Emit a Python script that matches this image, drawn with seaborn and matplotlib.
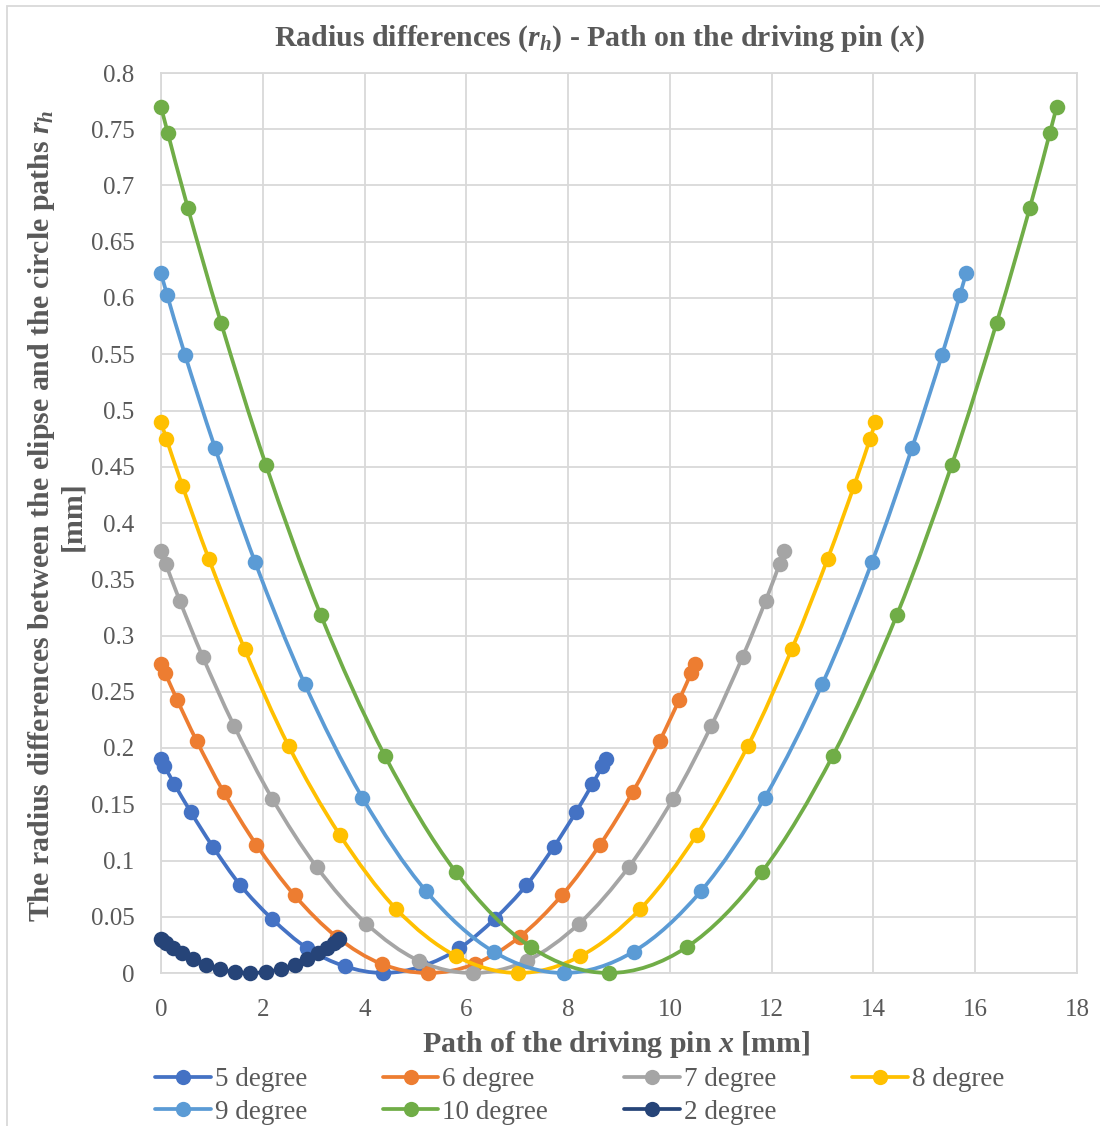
import numpy as np
import pandas as pd
import matplotlib
matplotlib.use('Agg')
import matplotlib.pyplot as plt
import seaborn as sns
from matplotlib.patches import Rectangle, PathPatch
from matplotlib.path import Path
from matplotlib.lines import Line2D

# Path of the driving pin x [mm] and radius difference r_h [mm], per angle
x_5 = [0, 0.066, 0.262, 0.586, 1.023, 1.560, 2.185, 2.875, 3.610, 4.37,
       5.130, 5.865, 6.555, 7.180, 7.717, 8.154, 8.478, 8.674, 8.74]
r_5 = [0.190, 0.184, 0.168, 0.143, 0.112, 0.078, 0.048, 0.022, 0.006, 0,
       0.006, 0.022, 0.048, 0.078, 0.112, 0.143, 0.168, 0.184, 0.190]

x_6 = [0, 0.079, 0.315, 0.704, 1.229, 1.874, 2.625, 3.455, 4.337, 5.25,
       6.164, 7.046, 7.875, 8.626, 9.272, 9.797, 10.185, 10.421, 10.5]
r_6 = [0.275, 0.267, 0.243, 0.206, 0.161, 0.114, 0.069, 0.032, 0.008, 0,
       0.008, 0.032, 0.069, 0.114, 0.161, 0.206, 0.243, 0.267, 0.275]

x_7 = [0, 0.092, 0.368, 0.821, 1.433, 2.186, 3.063, 4.032, 5.062, 6.125,
       7.191, 8.219, 9.188, 10.064, 10.817, 11.429, 11.883, 12.158, 12.25]
r_7 = [0.375, 0.364, 0.331, 0.281, 0.220, 0.155, 0.094, 0.044, 0.011, 0,
       0.011, 0.044, 0.094, 0.155, 0.220, 0.281, 0.331, 0.364, 0.375]

x_8 = [0, 0.105, 0.421, 0.941, 1.643, 2.506, 3.51, 4.619, 5.799, 7.02,
       8.241, 9.421, 10.53, 11.534, 12.397, 13.099, 13.619, 13.935, 14.04]
r_8 = [0.490, 0.475, 0.433, 0.368, 0.288, 0.202, 0.123, 0.057, 0.015, 0,
       0.015, 0.057, 0.123, 0.202, 0.288, 0.368, 0.433, 0.475, 0.490]

x_9 = [0, 0.119, 0.475, 1.060, 1.851, 2.824, 3.955, 5.205, 6.534, 7.91,
       9.286, 10.615, 11.865, 12.996, 13.969, 14.760, 15.345, 15.701, 15.82]
r_9 = [0.622, 0.603, 0.549, 0.467, 0.365, 0.257, 0.156, 0.073, 0.019, 0,
       0.019, 0.073, 0.156, 0.257, 0.365, 0.467, 0.549, 0.603, 0.622]

x_10 = [0, 0.132, 0.528, 1.179, 2.059, 3.142, 4.4, 5.79, 7.269, 8.8,
        10.331, 11.81, 13.2, 14.458, 15.541, 16.421, 17.072, 17.468, 17.6]
r_10 = [0.770, 0.747, 0.680, 0.578, 0.452, 0.318, 0.193, 0.090, 0.023, 0,
        0.023, 0.090, 0.193, 0.318, 0.452, 0.578, 0.680, 0.747, 0.770]

x_2 = [0, 0.026, 0.105, 0.235, 0.410, 0.625, 0.875, 1.152, 1.446, 1.75,
       2.055, 2.349, 2.625, 2.876, 3.091, 3.266, 3.395, 3.474, 3.5]
r_2 = [0.030, 0.029, 0.0265, 0.0225, 0.0176, 0.0124, 0.0075, 0.0035, 0.0009, 0,
       0.0009, 0.0035, 0.0075, 0.0124, 0.0176, 0.0225, 0.0265, 0.029, 0.030]

series_names = ["5 degree", "6 degree", "7 degree", "8 degree",
                "9 degree", "10 degree", "2 degree"]
series_x = [x_5, x_6, x_7, x_8, x_9, x_10, x_2]
series_r = [r_5, r_6, r_7, r_8, r_9, r_10, r_2]
colors = ["#4472C4", "#ED7D31", "#A5A5A5", "#FFC000",
          "#5B9BD5", "#70AD47", "#264478"]

x_ticks = list(range(0, 19, 2))
y_ticks = [i * 0.05 for i in range(17)]


def smooth_path(xs, ys):
    # Excel-like smoothed line: Catmull-Rom segments as cubic Beziers
    pts = np.column_stack([xs, ys]).astype(float)
    n = len(pts)
    verts = [pts[0]]
    codes = [Path.MOVETO]
    for i in range(n - 1):
        p0 = pts[i - 1] if i > 0 else pts[i]
        p1, p2 = pts[i], pts[i + 1]
        p3 = pts[i + 2] if i + 2 < n else pts[i + 1]
        verts += [p1 + (p2 - p0) / 6, p2 - (p3 - p1) / 6, p2]
        codes += [Path.CURVE4] * 3
    return Path(verts, codes)


sns.set_style("white")
plt.rcParams['font.family'] = ['Liberation Serif', 'DejaVu Serif']
plt.rcParams['mathtext.fontset'] = 'custom'
plt.rcParams['mathtext.it'] = 'Liberation Serif:italic:bold'
plt.rcParams['mathtext.rm'] = 'Liberation Serif:bold'

TXT = "#595959"
GRID = "#D9D9D9"
LW = 2.7

fig = plt.figure(figsize=(11, 11.26), dpi=100)
ax = fig.add_axes([161 / 1100, 1 - 973 / 1126, (1077 - 161) / 1100, (973 - 73) / 1126])

for i, (name, xs, rs, col) in enumerate(zip(series_names, series_x, series_r, colors)):
    ax.add_patch(PathPatch(smooth_path(xs, rs), fill=False, edgecolor=col,
                           linewidth=LW, zorder=3 + 2 * i, clip_on=False))
    sns.scatterplot(x=xs, y=rs, color=col, s=125, linewidth=0,
                    zorder=4 + 2 * i, clip_on=False, ax=ax)

ax.set_xlim(0, 18)
ax.set_ylim(0, 0.8)
ax.set_xticks(x_ticks)
ax.set_yticks(y_ticks)
ax.set_xticklabels([str(t) for t in x_ticks])
ax.set_yticklabels([f"{t:g}" for t in np.round(y_ticks, 2)])
ax.tick_params(length=0, labelsize=18, labelcolor=TXT)
ax.tick_params(axis='y', pad=19)
ax.tick_params(axis='x', pad=19)
ax.grid(True, color=GRID, linewidth=1.3)
ax.set_axisbelow(True)
for sp in ax.spines.values():
    sp.set_color(GRID)
    sp.set_linewidth(1.3)

ax.set_title(r"Radius differences ($r_h$) - Path on the driving pin ($x$)",
             fontsize=21.5, fontweight='bold', color=TXT, pad=20,
             x=(600 - 161) / 916)
ax.set_xlabel(r"Path of the driving pin $x$ [mm]", fontsize=21.5,
              fontweight='bold', color=TXT)
ax.set_ylabel("The radius differences between the elipse and the circle paths $r_h$\n[mm]",
              fontsize=21.5, fontweight='bold', color=TXT, linespacing=1.1)
ax.xaxis.set_label_coords(0.497, -0.062)
ax.yaxis.set_label_coords(-0.082, 0.508)

handles = [Line2D([], [], color=c, linewidth=LW, marker='o', markersize=11,
                  markeredgewidth=0) for c in colors]
order = [0, 4, 1, 5, 2, 6, 3]
leg = fig.legend([handles[i] for i in order], [series_names[i] for i in order],
                 loc='upper left', bbox_to_anchor=(155 / 1100, 1 - 1067 / 1126),
                 ncol=4, frameon=False, fontsize=19.5, handlelength=2.05,
                 handletextpad=0.15, columnspacing=2.8, labelspacing=0.28,
                 borderpad=0, borderaxespad=0)
for t in leg.get_texts():
    t.set_color(TXT)

fig.patches.append(Rectangle((7 / 1100, -0.01), 1.0, 1 - 6 / 1126 + 0.01,
                             transform=fig.transFigure, fill=False,
                             edgecolor=GRID, linewidth=1.3))

fig.savefig("out.png", dpi=100)
